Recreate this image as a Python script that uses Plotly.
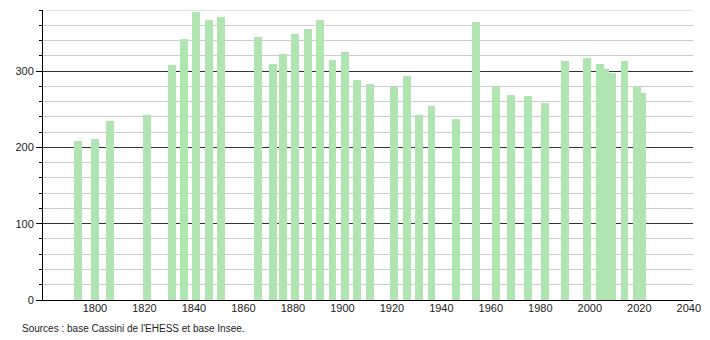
import plotly.graph_objects as go

years = [1793, 1800, 1806, 1821, 1831, 1836, 1841, 1846, 1851, 1866, 1872, 1876,
         1881, 1886, 1891, 1896, 1901, 1906, 1911, 1921, 1926, 1931, 1936, 1946,
         1954, 1962, 1968, 1975, 1982, 1990, 1999, 2004, 2006, 2009, 2014, 2019, 2021]
population = [208, 211, 234, 243, 308, 342, 378, 367, 371, 345, 309, 322,
              348, 355, 367, 315, 325, 288, 283, 279, 293, 243, 254, 237,
              364, 279, 269, 267, 258, 313, 317, 309, 303, 297, 313, 280, 271]
x_ticks = [1800, 1820, 1840, 1860, 1880, 1900, 1920, 1940, 1960, 1980, 2000, 2020, 2040]
y_ticks = [0, 100, 200, 300]
source_text = "Sources : base Cassini de l'EHESS et base Insee."

fig = go.Figure()
fig.add_trace(go.Bar(
    x=years, y=population, width=3.2,
    marker=dict(color="rgb(176,228,176)", line=dict(width=0)),
    hoverinfo="x+y",
))

fig.update_layout(
    width=710, height=340,
    margin=dict(l=43, r=9, t=10, b=40),
    plot_bgcolor="white", paper_bgcolor="white",
    showlegend=False,
    font=dict(family="Liberation Sans, Arial, sans-serif", size=11, color="#222"),
    xaxis=dict(
        range=[1779, 2041.7], tickvals=x_ticks, showgrid=False,
        showline=True, linecolor="black", linewidth=1, ticks="", zeroline=False,
        tickfont=dict(size=11, color="#222"), ticklabelstandoff=-2,
    ),
    yaxis=dict(
        range=[0, 380], tickvals=y_ticks, showgrid=True, gridcolor="#333", gridwidth=1,
        showline=True, linecolor="black", linewidth=1, ticks="outside", ticklen=6,
        tickcolor="black", zeroline=False,
        minor=dict(dtick=20, showgrid=True, gridcolor="#cccccc", ticks="outside",
                   ticklen=3, tickcolor="black"),
        tickfont=dict(size=11, color="#222"),
    ),
    bargap=0,
)

fig.add_shape(type="line", xref="paper", yref="y", x0=0, x1=1, y0=380, y1=380,
              line=dict(color="#cccccc", width=1), layer="below")

fig.add_annotation(text=source_text, xref="paper", yref="paper",
                   x=(20 - 43) / 658, y=(300 - 328) / 290, xanchor="left", yanchor="middle",
                   showarrow=False, font=dict(size=10, color="#222"))

fig.write_html("out.html")
